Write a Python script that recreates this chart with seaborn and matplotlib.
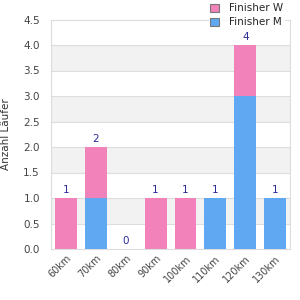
import numpy as np
import pandas as pd
import matplotlib
matplotlib.use("Agg")
import matplotlib.pyplot as plt
import seaborn as sns

# data
categories = ["60km", "70km", "80km", "90km", "100km", "110km", "120km", "130km"]
finisher_w = [1, 1, 0, 1, 1, 0, 1, 0]
finisher_m = [0, 1, 0, 0, 0, 1, 3, 1]

pink = "#f283ba"
blue = "#60a9f2"

sns.set_style("white")
plt.rcParams["font.family"] = ["DejaVu Sans"]

df = pd.DataFrame({"cat": categories, "W": finisher_w, "M": finisher_m})
df["total"] = df["W"] + df["M"]

fig = plt.figure(figsize=(3, 3), dpi=100)
ax = fig.add_axes([0.17, 0.17, 0.797, 0.765])

# alternating background bands
for lo in np.arange(0.5, 4.5, 1.0):
    ax.axhspan(lo, lo + 0.5, color="#f2f2f2", zorder=0, lw=0)
for y in np.arange(0.5, 4.5, 0.5):
    ax.axhline(y, color="#dddddd", lw=0.8, zorder=0.5)

# stacked bars: total (pink) first, then men (blue) over it
sns.barplot(data=df, x="cat", y="total", color=pink, width=0.73,
            saturation=1, linewidth=0, edgecolor="none", ax=ax, zorder=2)
sns.barplot(data=df, x="cat", y="M", color=blue, width=0.73,
            saturation=1, linewidth=0, edgecolor="none", ax=ax, zorder=3)

for i, t in enumerate(df["total"]):
    ax.annotate(str(t), (i, t), xytext=(0, 2.5), textcoords="offset points",
                ha="center", va="bottom", fontsize=7.5, color="#2b2b9c")

ax.set_ylim(0, 4.5)
ax.set_xlim(-0.5, len(categories) - 0.5)
ax.set_yticks(np.arange(0, 4.51, 0.5))
ax.set_yticklabels([f"{v:.1f}" for v in np.arange(0, 4.51, 0.5)])
ax.set_xlabel("")
ax.set_ylabel("Anzahl Läufer", fontsize=7.5, color="#333333", labelpad=9)
ax.tick_params(axis="y", labelsize=7.5, colors="#444444", length=0, pad=8)
ax.tick_params(axis="x", labelsize=7, colors="#444444", length=0, pad=3)
for lab in ax.get_xticklabels():
    lab.set_rotation(45)
    lab.set_ha("right")
    lab.set_rotation_mode("anchor")

for s in ax.spines.values():
    s.set_color("#dddddd")
    s.set_linewidth(0.8)

handles = [plt.Rectangle((0, 0), 1, 1, fc=pink, ec="#777777", lw=0.8),
           plt.Rectangle((0, 0), 1, 1, fc=blue, ec="#777777", lw=0.8)]
leg = fig.legend(handles, ["Finisher W", "Finisher M"], loc="upper right",
                 bbox_to_anchor=(0.965, 1.01), frameon=True, fontsize=7.5,
                 handlelength=0.8, handleheight=0.8, handletextpad=1.0,
                 borderpad=0.1, labelspacing=0.4, fancybox=False)
leg.get_frame().set_facecolor("white")
leg.get_frame().set_edgecolor("white")
leg.set_zorder(10)

fig.savefig("out.png", dpi=100)
